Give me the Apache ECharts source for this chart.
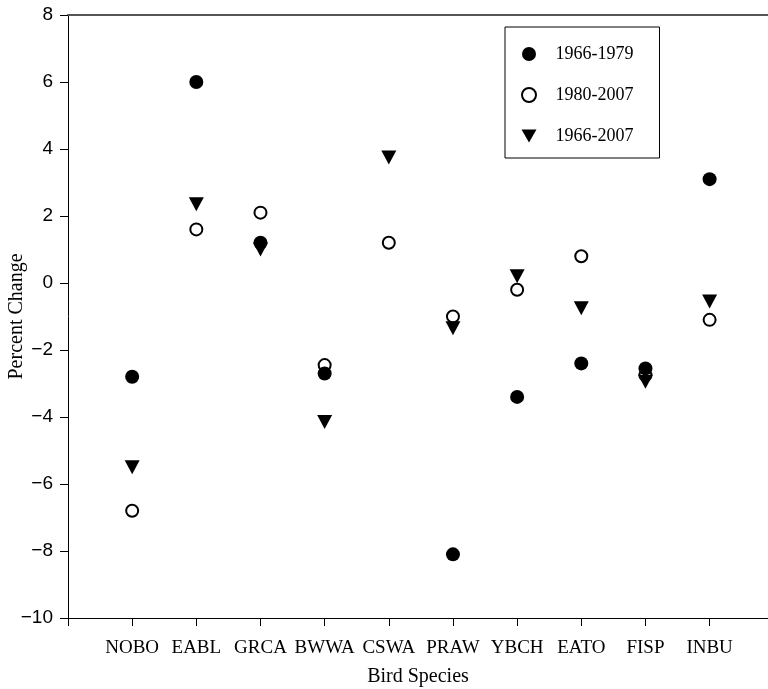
<!DOCTYPE html>
<html>
<head>
<meta charset="utf-8">
<script src="https://cdn.jsdelivr.net/npm/echarts@6/dist/echarts.min.js"></script>
<style>
  html, body { margin: 0; padding: 0; background: #fff; }
  #chart { width: 768px; height: 689px; }
</style>
</head>
<body>
<div id="chart"></div>
<script>
// bird species on the x axis
var species = ['NOBO', 'EABL', 'GRCA', 'BWWA', 'CSWA', 'PRAW', 'YBCH', 'EATO', 'FISP', 'INBU'];
// percent change per period (null = no point)
var change1966_1979 = [-2.8, 6.0, 1.2, -2.7, null, -8.1, -3.4, -2.4, -2.55, 3.1];
var change1980_2007 = [-6.8, 1.6, 2.1, -2.45, 1.2, -1.0, -0.2, 0.8, -2.75, -1.1];
var change1966_2007 = [-5.5, 2.35, 1.0, -4.15, 3.75, -1.35, 0.2, -0.75, -2.95, -0.55];
var yTicks = [-10, -8, -6, -4, -2, 0, 2, 4, 6, 8];

var serif = '"Liberation Serif", "Times New Roman", serif';
var sans = '"Liberation Sans", Arial, sans-serif';
var triangleDown = 'path://M0,0L16,0L8,14Z';

function toPoints(arr) {
  var out = [];
  arr.forEach(function (v, i) {
    if (v !== null) out.push([i + 1, v]);
  });
  return out;
}

var xMax = 10.91;
var tickVals = [0, 1, 2, 3, 4, 5, 6, 7, 8, 9, 10];
var labelVals = [1, 2, 3, 4, 5, 6, 7, 8, 9, 10];

var myChart = echarts.init(document.getElementById('chart'));
myChart.setOption({
  animation: false,
  grid: { left: 68, right: 0, top: 15, bottom: 71, containLabel: false, outerBoundsMode: 'none' },
  legend: {
    orient: 'vertical',
    left: 505,
    top: 27,
    width: 157,
    padding: [18, 26, 13, 16],
    itemGap: 23,
    itemWidth: 15,
    itemHeight: 14,
    borderColor: '#000',
    borderWidth: 1,
    borderRadius: 0,
    data: ['1966-1979', '1980-2007', '1966-2007'],
    textStyle: { fontFamily: serif, fontSize: 18, color: '#000', padding: [0, 0, 0, 14] }
  },
  xAxis: [{
    type: 'value',
    min: 0,
    max: xMax,
    interval: 1,
    name: 'Bird Species',
    nameLocation: 'middle',
    nameMoveOverlap: false,
    nameGap: 49,
    nameTextStyle: { fontFamily: serif, fontSize: 20, color: '#000' },
    splitLine: { show: false },
    axisLine: { onZero: false, lineStyle: { color: '#000', width: 1 } },
    axisTick: { length: 8, customValues: tickVals, lineStyle: { color: '#000' } },
    axisLabel: {
      customValues: labelVals,
      margin: 21,
      fontFamily: serif,
      fontSize: 19,
      color: '#000',
      formatter: function (v) { return species[v - 1] || ''; }
    }
  }, {
    type: 'value',
    position: 'top',
    min: 0,
    max: xMax,
    splitLine: { show: false },
    axisLine: { show: true, onZero: false, lineStyle: { color: '#555', width: 2 } },
    axisTick: { show: false },
    axisLabel: { show: false }
  }],
  yAxis: {
    type: 'value',
    min: yTicks[0],
    max: yTicks[yTicks.length - 1],
    interval: 2,
    name: 'Percent Change',
    nameLocation: 'middle',
    nameMoveOverlap: false,
    nameGap: 41,
    nameTextStyle: { fontFamily: serif, fontSize: 20, color: '#000' },
    splitLine: { show: false },
    axisLine: { show: true, onZero: false, lineStyle: { color: '#000', width: 1 } },
    axisTick: { show: true, length: 8, lineStyle: { color: '#000' } },
    axisLabel: {
      margin: 15,
      fontFamily: sans,
      fontSize: 19,
      color: '#000',
      formatter: function (v) { return String(v).replace('-', '\u2212'); }
    }
  },
  series: [
    {
      name: '1980-2007',
      type: 'scatter',
      symbol: 'emptyCircle',
      symbolSize: 12,
      itemStyle: { color: '#000', borderColor: '#000', borderWidth: 2, opacity: 1 },
      data: toPoints(change1980_2007)
    },
    {
      name: '1966-1979',
      type: 'scatter',
      symbol: 'circle',
      symbolSize: 14,
      itemStyle: { color: '#000', opacity: 1 },
      data: toPoints(change1966_1979)
    },
    {
      name: '1966-2007',
      type: 'scatter',
      symbol: triangleDown,
      symbolSize: [15, 14],
      itemStyle: { color: '#000', opacity: 1 },
      data: toPoints(change1966_2007)
    }
  ]
});
</script>
</body>
</html>
